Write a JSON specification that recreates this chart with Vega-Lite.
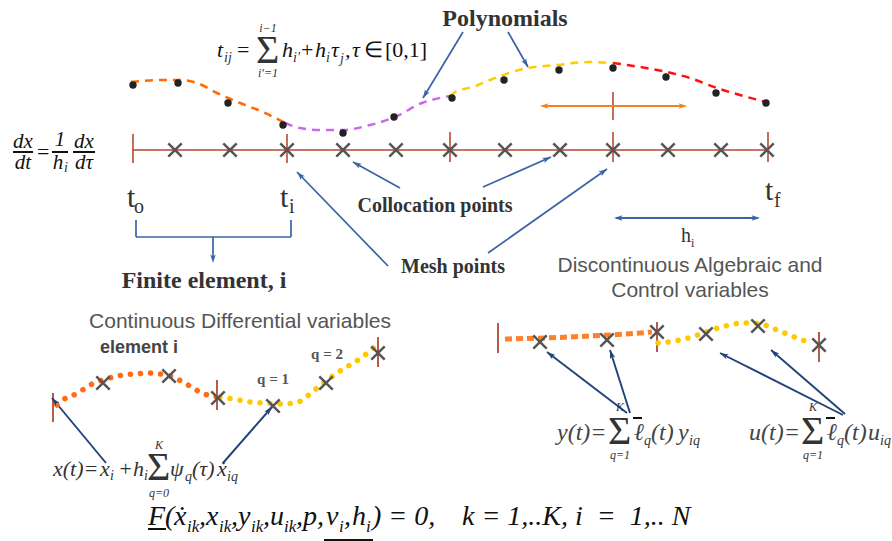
{
 "$schema": "https://vega.github.io/schema/vega-lite/v6.json",
 "width": 892, "height": 541,
 "autosize": {"type": "fit", "contains": "padding"},
 "padding": 0,
 "background": "white",
 "config": {"view": {"stroke": null}},
 "datasets": {
  "segs": [
   {"g":"brown1","x":133,"y":150,"x2":768,"y2":150},
   {"g":"brown2","x":133,"y":134,"x2":133,"y2":163},
   {"g":"brown2","x":287,"y":134,"x2":287,"y2":163},
   {"g":"brown2","x":450,"y":132,"x2":450,"y2":162},
   {"g":"brown2","x":613,"y":132,"x2":613,"y2":162},
   {"g":"brown2","x":768,"y":132,"x2":768,"y2":162},
   {"g":"brown2","x":613,"y":92,"x2":613,"y2":120},
   {"g":"brown3","x":53,"y":393,"x2":53,"y2":422},
   {"g":"brown3","x":217,"y":380,"x2":217,"y2":410},
   {"g":"brown3","x":378,"y":337,"x2":378,"y2":367},
   {"g":"brown3","x":498,"y":323,"x2":498,"y2":353},
   {"g":"brown3","x":657,"y":322,"x2":657,"y2":352},
   {"g":"brown3","x":819,"y":332,"x2":819,"y2":362},
   {"g":"blue","x":463,"y":32,"x2":423,"y2":98},
   {"g":"blue","x":508,"y":32,"x2":528,"y2":67},
   {"g":"blue","x":400,"y":188,"x2":353,"y2":162},
   {"g":"blue","x":483,"y":187,"x2":551,"y2":157},
   {"g":"blue","x":388,"y":266,"x2":297,"y2":172},
   {"g":"blue","x":488,"y":253,"x2":607,"y2":169},
   {"g":"blue","x":136,"y":220,"x2":136,"y2":237},
   {"g":"blue","x":136,"y":237,"x2":291,"y2":237},
   {"g":"blue","x":291,"y":237,"x2":291,"y2":220},
   {"g":"blue","x":213,"y":237,"x2":213,"y2":260},
   {"g":"blue2","x":616,"y":218,"x2":758,"y2":218},
   {"g":"orange","x":542,"y":106,"x2":685,"y2":106},
   {"g":"navy","x":106,"y":463,"x2":52,"y2":398},
   {"g":"navy","x":223,"y":463,"x2":272,"y2":407},
   {"g":"navy","x":627,"y":413,"x2":547,"y2":352},
   {"g":"navy","x":630,"y":413,"x2":610,"y2":350},
   {"g":"navy","x":843,"y":415,"x2":720,"y2":353},
   {"g":"navy","x":845,"y":414,"x2":771,"y2":350},
   {"g":"black","x":13,"y":152,"x2":33,"y2":152},
   {"g":"black","x":52,"y":152,"x2":68,"y2":152},
   {"g":"black","x":73,"y":152,"x2":95,"y2":152},
   {"g":"black","x":148,"y":529,"x2":166,"y2":529},
   {"g":"black","x":324,"y":540,"x2":373,"y2":540},
   {"g":"black","x":633,"y":418,"x2":642,"y2":418},
   {"g":"black","x":826,"y":418,"x2":835,"y2":418}
  ],
  "topCurves": [
   {"c":"a","x":131,"y":82},{"c":"a","x":160,"y":80},{"c":"a","x":180,"y":80},{"c":"a","x":197,"y":83},{"c":"a","x":217,"y":93},{"c":"a","x":240,"y":103},{"c":"a","x":263,"y":112},{"c":"a","x":285,"y":123},
   {"c":"b","x":285,"y":123},{"c":"b","x":300,"y":128},{"c":"b","x":320,"y":130},{"c":"b","x":343,"y":130},{"c":"b","x":370,"y":125},{"c":"b","x":395,"y":117},{"c":"b","x":422,"y":103},{"c":"b","x":450,"y":96},
   {"c":"c","x":450,"y":96},{"c":"c","x":457,"y":91},{"c":"c","x":473,"y":87},{"c":"c","x":490,"y":80},{"c":"c","x":523,"y":69},{"c":"c","x":557,"y":65},{"c":"c","x":590,"y":62},{"c":"c","x":613,"y":63},
   {"c":"d","x":613,"y":63},{"c":"d","x":627,"y":65},{"c":"d","x":657,"y":70},{"c":"d","x":690,"y":78},{"c":"d","x":717,"y":88},{"c":"d","x":740,"y":95},{"c":"d","x":766,"y":102}
  ],
  "dotCurves": [
   {"c":"a","x":57,"y":405},{"c":"a","x":66,"y":398},{"c":"a","x":76,"y":394},{"c":"a","x":84,"y":389},{"c":"a","x":92,"y":384},{"c":"a","x":103,"y":380},{"c":"a","x":113,"y":377},{"c":"a","x":123,"y":375},{"c":"a","x":135,"y":374},{"c":"a","x":150,"y":373},{"c":"a","x":160,"y":374},{"c":"a","x":170,"y":376},{"c":"a","x":183,"y":382},{"c":"a","x":193,"y":388},{"c":"a","x":202,"y":393},{"c":"a","x":217,"y":397},
   {"c":"b","x":220,"y":397},{"c":"b","x":233,"y":399},{"c":"b","x":250,"y":402},{"c":"b","x":263,"y":403},{"c":"b","x":280,"y":404},{"c":"b","x":295,"y":403},{"c":"b","x":304,"y":399},{"c":"b","x":312,"y":392},{"c":"b","x":320,"y":386},{"c":"b","x":330,"y":378},{"c":"b","x":343,"y":369},{"c":"b","x":355,"y":362},{"c":"b","x":365,"y":355},{"c":"b","x":378,"y":344},
   {"c":"c","x":658,"y":343},{"c":"c","x":668,"y":342},{"c":"c","x":680,"y":340},{"c":"c","x":692,"y":337},{"c":"c","x":706,"y":332},{"c":"c","x":718,"y":328},{"c":"c","x":730,"y":325},{"c":"c","x":742,"y":323},{"c":"c","x":752,"y":323},{"c":"c","x":762,"y":324},{"c":"c","x":772,"y":328},{"c":"c","x":782,"y":332},{"c":"c","x":792,"y":336},{"c":"c","x":802,"y":340},{"c":"c","x":812,"y":342}
  ],
  "squareCurve": [
   {"x":505,"y":339},{"x":545,"y":338},{"x":590,"y":336},{"x":625,"y":334},{"x":652,"y":332}
  ],
  "dots": [
   {"x":133,"y":85},{"x":178,"y":83},{"x":228,"y":103},{"x":283,"y":125},{"x":343,"y":133},{"x":394,"y":117},
   {"x":452,"y":98},{"x":504,"y":80},{"x":559,"y":70},{"x":613,"y":68},{"x":666,"y":77},{"x":716,"y":93},{"x":766,"y":103}
  ],
  "crosses": [
   {"x":175,"y":150},{"x":230,"y":150},{"x":287,"y":150},{"x":343,"y":150},{"x":396,"y":150},{"x":450,"y":150},
   {"x":505,"y":150},{"x":560,"y":150},{"x":613,"y":150},{"x":668,"y":150},{"x":721,"y":150},{"x":767,"y":150},
   {"x":103,"y":383},{"x":169,"y":376},{"x":218,"y":398},{"x":273,"y":406},{"x":326,"y":383},{"x":378,"y":353},
   {"x":540,"y":342},{"x":607,"y":340},{"x":657,"y":332},{"x":706,"y":334},{"x":758,"y":326},{"x":819,"y":345}
  ],
  "heads": [
   {"g":"blue","x":423,"y":98,"a":211},
   {"g":"blue","x":528,"y":67,"a":150},
   {"g":"blue","x":353,"y":162,"a":299},
   {"g":"blue","x":551,"y":157,"a":66},
   {"g":"blue","x":297,"y":172,"a":316},
   {"g":"blue","x":607,"y":169,"a":55},
   {"g":"blue","x":213,"y":263,"a":180},
   {"g":"blue","x":614,"y":218,"a":270},
   {"g":"blue","x":760,"y":218,"a":90},
   {"g":"orange","x":540,"y":106,"a":270},
   {"g":"orange","x":687,"y":106,"a":90},
   {"g":"navy","x":52,"y":398,"a":320},
   {"g":"navy","x":272,"y":407,"a":41},
   {"g":"navy","x":547,"y":352,"a":307},
   {"g":"navy","x":610,"y":350,"a":342},
   {"g":"navy","x":720,"y":353,"a":297},
   {"g":"navy","x":771,"y":350,"a":311}
  ],
  "titlesBig": [
   {"t":"Polynomials","x":505,"y":26},
   {"t":"Finite element, i","x":204,"y":288}
  ],
  "titlesMid": [
   {"t":"Collocation points","x":435,"y":212},
   {"t":"Mesh points","x":453,"y":273}
  ],
  "sansLabels": [
   {"t":"Discontinuous Algebraic and","x":690,"y":272},
   {"t":"Control variables","x":690,"y":297},
   {"t":"Continuous Differential variables","x":240,"y":328}
  ],
  "sansBold": [
   {"t":"element i","x":139,"y":353}
  ],
  "qLabels": [
   {"t":"q = 1","x":273,"y":384},
   {"t":"q = 2","x":327,"y":359}
  ],
  "tBig": [
   {"t":"t","x":127,"y":207},
   {"t":"t","x":280,"y":207},
   {"t":"t","x":765,"y":200}
  ],
  "tSub": [
   {"t":"o","x":134,"y":213},
   {"t":"i","x":289,"y":213},
   {"t":"f","x":774,"y":207},
   {"t":"h","x":681,"y":242}
  ],
  "tSubSmall": [
   {"t":"i","x":691,"y":247}
  ],
  "mathTop": [
   {"t":"t","x":217,"y":57},
   {"t":"h","x":282,"y":57},
   {"t":"h","x":315,"y":57},
   {"t":"τ","x":331,"y":57},
   {"t":",","x":345,"y":57},
   {"t":"τ","x":352,"y":57}
  ],
  "mathUp": [
   {"t":"=","x":237,"y":57},
   {"t":"+","x":301,"y":57},
   {"t":"∈","x":364,"y":57},
   {"t":"[0,1]","x":385,"y":57},
   {"t":"=","x":37,"y":159}
  ],
  "mathFrac": [
   {"t":"dx","x":23,"y":148},
   {"t":"dt","x":23,"y":169},
   {"t":"1","x":60,"y":146},
   {"t":"h","x":58,"y":169},
   {"t":"dx","x":84,"y":148},
   {"t":"dτ","x":84,"y":169}
  ],
  "mathBL": [
   {"t":"x(t)=","x":53,"y":476},
   {"t":"x","x":100,"y":476},
   {"t":"+","x":118,"y":476},
   {"t":"h","x":133,"y":476},
   {"t":"ψ","x":170,"y":476},
   {"t":"(τ)","x":192,"y":476},
   {"t":"ẋ","x":217,"y":476}
  ],
  "mathBR": [
   {"t":"y(t)=","x":557,"y":440},
   {"t":"ℓ","x":634,"y":440},
   {"t":"(t)","x":651,"y":440},
   {"t":"y","x":678,"y":440},
   {"t":"u(t)=","x":749,"y":440},
   {"t":"ℓ","x":827,"y":440},
   {"t":"(t)","x":844,"y":440},
   {"t":"u","x":868,"y":440}
  ],
  "mathSub": [
   {"t":"ij","x":224,"y":62},
   {"t":"i'","x":293,"y":62},
   {"t":"i","x":326,"y":62},
   {"t":"j","x":340,"y":63},
   {"t":"i","x":64,"y":172},
   {"t":"i","x":110,"y":480},
   {"t":"i","x":144,"y":480},
   {"t":"q","x":185,"y":481},
   {"t":"iq","x":227,"y":481},
   {"t":"q","x":644,"y":445},
   {"t":"iq","x":689,"y":445},
   {"t":"q","x":837,"y":445},
   {"t":"iq","x":880,"y":445}
  ],
  "sigmas": [
   {"t":"Σ","x":256,"y":63},
   {"t":"Σ","x":147,"y":480},
   {"t":"Σ","x":608,"y":444},
   {"t":"Σ","x":801,"y":444}
  ],
  "limits": [
   {"t":"i−1","x":268,"y":32},
   {"t":"i'=1","x":268,"y":77},
   {"t":"K","x":159,"y":449},
   {"t":"q=0","x":159,"y":497},
   {"t":"K","x":620,"y":411},
   {"t":"q=1","x":620,"y":459},
   {"t":"K","x":813,"y":411},
   {"t":"q=1","x":813,"y":459}
  ],
  "eqMain": [
   {"t":"F(","x":148,"y":525},
   {"t":"ẋ","x":174,"y":525},
   {"t":",","x":199,"y":525},
   {"t":"x","x":206,"y":525},
   {"t":",","x":231,"y":525},
   {"t":"y","x":238,"y":525},
   {"t":",","x":263,"y":525},
   {"t":"u","x":270,"y":525},
   {"t":",","x":296,"y":525},
   {"t":"p,","x":303,"y":525},
   {"t":"v","x":326,"y":525},
   {"t":",","x":344,"y":525},
   {"t":"h","x":352,"y":525},
   {"t":") = 0,","x":372,"y":525},
   {"t":"k = 1,..K, i \u00a0=\u00a0 1,.. N","x":462,"y":525}
  ],
  "eqSub": [
   {"t":"ik","x":187,"y":532},
   {"t":"ik","x":219,"y":532},
   {"t":"ik","x":251,"y":532},
   {"t":"ik","x":284,"y":532},
   {"t":"i","x":339,"y":532},
   {"t":"i","x":366,"y":532}
  ]
 },
 "encoding": {
  "x": {"field":"x","type":"quantitative","scale":{"domain":[0,892],"nice":false,"zero":false},"axis":null},
  "y": {"field":"y","type":"quantitative","scale":{"domain":[0,541],"nice":false,"zero":false,"reverse":true},"axis":null}
 },
 "resolve": {"scale": {"color": "independent", "strokeWidth": "independent", "angle": "independent"}},
 "layer": [
  {"data":{"name":"segs"},"mark":{"type":"rule","strokeCap":"butt"},
   "encoding":{"x2":{"field":"x2"},"y2":{"field":"y2"},
    "color":{"field":"g","type":"nominal","scale":{"domain":["brown1","brown2","brown3","blue","blue2","orange","navy","black"],"range":["#b5472e","#b5472e","#a33b22","#3a64a6","#3a64a6","#f58220","#22427c","#111111"]},"legend":null},
    "strokeWidth":{"field":"g","type":"ordinal","scale":{"domain":["brown1","brown2","brown3","blue","blue2","orange","navy","black"],"range":[1.5,2,3,1.3,2.5,2,1.2,1.2]},"legend":null}}},
  {"data":{"name":"topCurves"},"mark":{"type":"line","interpolate":"monotone","strokeDash":[8,6],"strokeWidth":2.5},
   "encoding":{"color":{"field":"c","type":"nominal","scale":{"domain":["a","b","c","d"],"range":["#ff6a00","#cc66ee","#ffcc00","#ff1010"]},"legend":null}}},
  {"data":{"name":"dotCurves"},"mark":{"type":"line","interpolate":"monotone","strokeDash":[0.1,10],"strokeCap":"round","strokeWidth":5.5},
   "encoding":{"color":{"field":"c","type":"nominal","scale":{"domain":["a","b","c"],"range":["#ff6a13","#ffc800","#ffc800"]},"legend":null}}},
  {"data":{"name":"squareCurve"},"mark":{"type":"line","interpolate":"monotone","strokeDash":[7,4],"strokeWidth":5,"color":"#ff7f2a"},"encoding":{}},
  {"data":{"name":"dots"},"mark":{"type":"point","shape":"circle","filled":true,"size":55,"color":"#222222","opacity":1}},
  {"data":{"name":"crosses"},"mark":{"type":"point","shape":"M-1,-1L1,1M-1,1L1,-1","filled":false,"size":180,"strokeWidth":2.5,"color":"#555555","opacity":1}},
  {"data":{"name":"heads"},"mark":{"type":"point","shape":"M0,0L0.55,1.7L0,1.3L-0.55,1.7Z","filled":true,"size":100,"opacity":1},
   "encoding":{"angle":{"field":"a","type":"quantitative","scale":{"domain":[0,360],"range":[0,360]}},
    "color":{"field":"g","type":"nominal","scale":{"domain":["blue","orange","navy"],"range":["#3a64a6","#f58220","#22427c"]},"legend":null}}},
  {"data":{"name":"titlesBig"},"mark":{"type":"text","font":"Liberation Serif","fontWeight":"bold","fontSize":24,"align":"center","baseline":"alphabetic","color":"#333333"},"encoding":{"text":{"field":"t"}}},
  {"data":{"name":"titlesMid"},"mark":{"type":"text","font":"Liberation Serif","fontWeight":"bold","fontSize":20,"align":"center","baseline":"alphabetic","color":"#333333"},"encoding":{"text":{"field":"t"}}},
  {"data":{"name":"sansLabels"},"mark":{"type":"text","font":"Liberation Sans","fontSize":21,"align":"center","baseline":"alphabetic","color":"#555555"},"encoding":{"text":{"field":"t"}}},
  {"data":{"name":"sansBold"},"mark":{"type":"text","font":"Liberation Sans","fontWeight":"bold","fontSize":18,"align":"center","baseline":"alphabetic","color":"#444444"},"encoding":{"text":{"field":"t"}}},
  {"data":{"name":"qLabels"},"mark":{"type":"text","font":"Liberation Serif","fontWeight":"bold","fontSize":15,"align":"center","baseline":"alphabetic","color":"#555555"},"encoding":{"text":{"field":"t"}}},
  {"data":{"name":"tBig"},"mark":{"type":"text","font":"Liberation Serif","fontSize":30,"align":"left","baseline":"alphabetic","color":"#333333"},"encoding":{"text":{"field":"t"}}},
  {"data":{"name":"tSub"},"mark":{"type":"text","font":"Liberation Serif","fontSize":20,"align":"left","baseline":"alphabetic","color":"#333333"},"encoding":{"text":{"field":"t"}}},
  {"data":{"name":"tSubSmall"},"mark":{"type":"text","font":"Liberation Serif","fontSize":12,"align":"left","baseline":"alphabetic","color":"#333333"},"encoding":{"text":{"field":"t"}}},
  {"data":{"name":"mathTop"},"mark":{"type":"text","font":"Liberation Serif","fontStyle":"italic","fontSize":22,"align":"left","baseline":"alphabetic","color":"#111111"},"encoding":{"text":{"field":"t"}}},
  {"data":{"name":"mathUp"},"mark":{"type":"text","font":"Liberation Serif","fontSize":22,"align":"left","baseline":"alphabetic","color":"#111111"},"encoding":{"text":{"field":"t"}}},
  {"data":{"name":"mathFrac"},"mark":{"type":"text","font":"Liberation Serif","fontStyle":"italic","fontSize":21,"align":"center","baseline":"alphabetic","color":"#111111"},"encoding":{"text":{"field":"t"}}},
  {"data":{"name":"mathBL"},"mark":{"type":"text","font":"Liberation Serif","fontStyle":"italic","fontSize":22,"align":"left","baseline":"alphabetic","color":"#333333"},"encoding":{"text":{"field":"t"}}},
  {"data":{"name":"mathBR"},"mark":{"type":"text","font":"Liberation Serif","fontStyle":"italic","fontSize":24,"align":"left","baseline":"alphabetic","color":"#444444"},"encoding":{"text":{"field":"t"}}},
  {"data":{"name":"mathSub"},"mark":{"type":"text","font":"Liberation Serif","fontStyle":"italic","fontSize":14,"align":"left","baseline":"alphabetic","color":"#333333"},"encoding":{"text":{"field":"t"}}},
  {"data":{"name":"sigmas"},"mark":{"type":"text","font":"Liberation Serif","fontSize":40,"align":"left","baseline":"alphabetic","color":"#333333"},"encoding":{"text":{"field":"t"}}},
  {"data":{"name":"limits"},"mark":{"type":"text","font":"Liberation Serif","fontStyle":"italic","fontSize":12,"align":"center","baseline":"alphabetic","color":"#333333"},"encoding":{"text":{"field":"t"}}},
  {"data":{"name":"eqMain"},"mark":{"type":"text","font":"Liberation Serif","fontStyle":"italic","fontSize":28,"align":"left","baseline":"alphabetic","color":"#111111"},"encoding":{"text":{"field":"t"}}},
  {"data":{"name":"eqSub"},"mark":{"type":"text","font":"Liberation Serif","fontStyle":"italic","fontSize":17,"align":"left","baseline":"alphabetic","color":"#111111"},"encoding":{"text":{"field":"t"}}}
 ]
}
